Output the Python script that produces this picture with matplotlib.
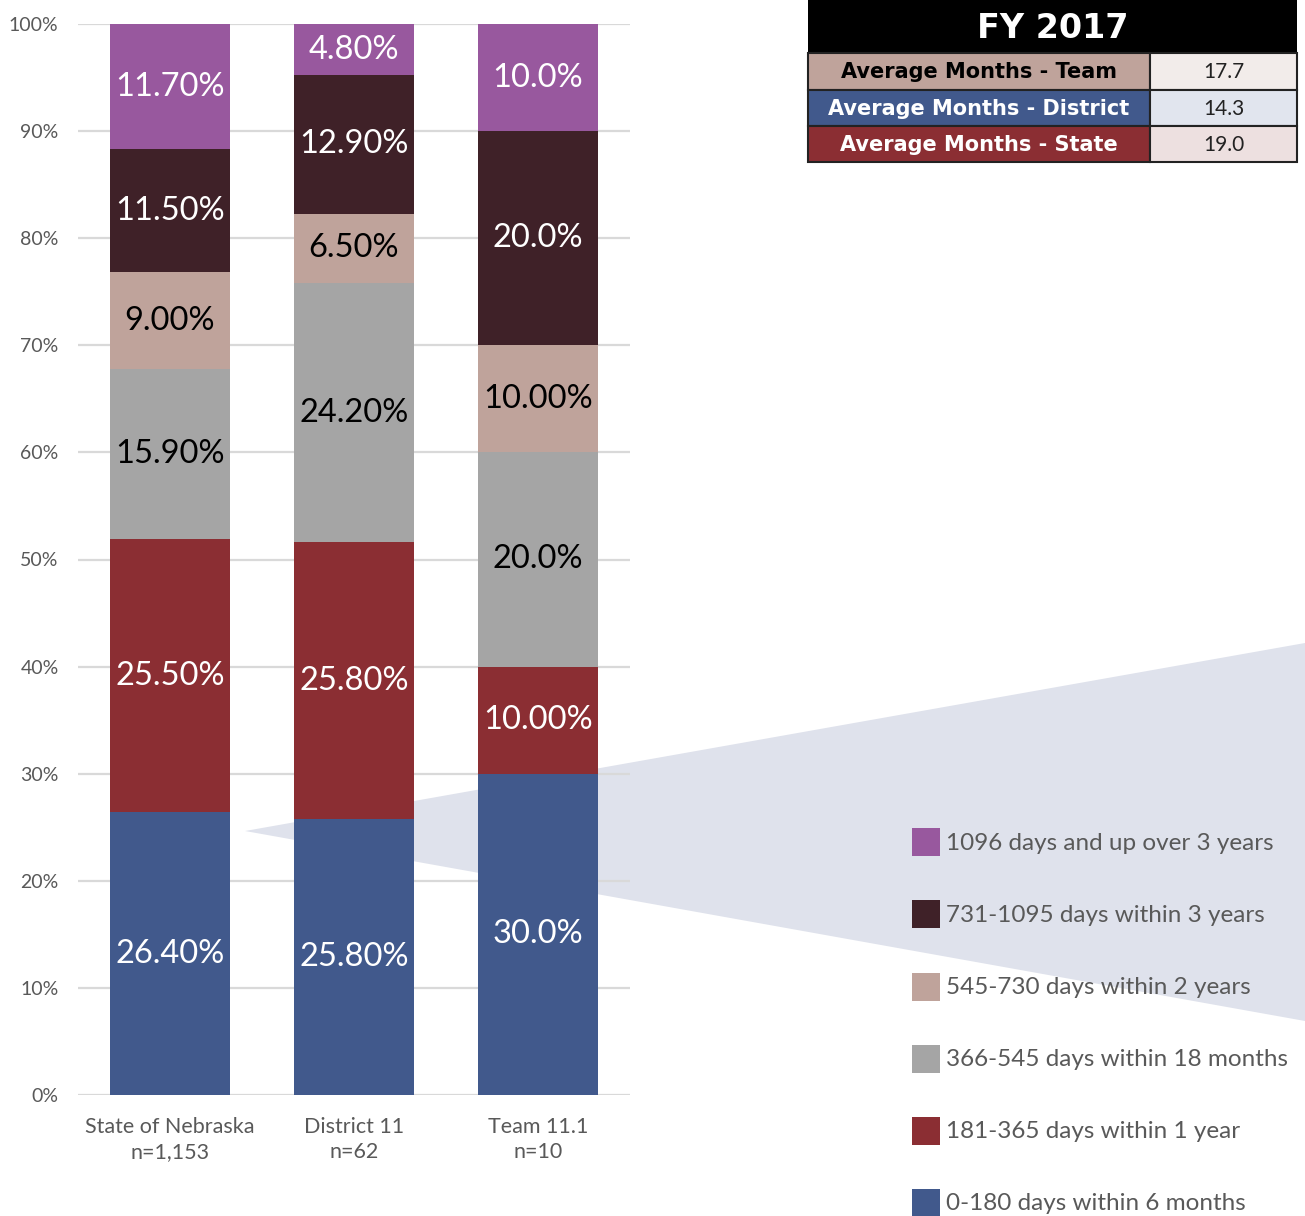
import numpy as np
import matplotlib.pyplot as plt
from matplotlib.patches import Polygon, Rectangle

plt.rcParams['font.family'] = ['Lato', 'DejaVu Sans']

groups = ['State of Nebraska\nn=1,153', 'District 11\nn=62', 'Team 11.1\nn=10']
categories = ['0-180 days within 6 months', '181-365 days within 1 year',
              '366-545 days within 18 months', '545-730 days within 2 years',
              '731-1095 days within 3 years', '1096 days and up over 3 years']
colors = ['#41598C', '#8B2E33', '#A5A5A5', '#BFA39B', '#3F2128', '#98589E']
text_colors = ['white', 'white', 'black', 'black', 'white', 'white']

# percent per category (rows) for each group (cols)
values = np.array([
    [26.4, 25.8, 30.0],
    [25.5, 25.8, 10.0],
    [15.9, 24.2, 20.0],
    [9.0, 6.5, 10.0],
    [11.5, 12.9, 20.0],
    [11.7, 4.8, 10.0],
])
labels = [
    ['26.40%', '25.80%', '30.0%'],
    ['25.50%', '25.80%', '10.00%'],
    ['15.90%', '24.20%', '20.0%'],
    ['9.00%', '6.50%', '10.00%'],
    ['11.50%', '12.90%', '20.0%'],
    ['11.70%', '4.80%', '10.0%'],
]

table_title = 'FY 2017'
table_labels = ['Average Months - Team', 'Average Months - District', 'Average Months - State']
table_values = ['17.7', '14.3', '19.0']
table_fill = ['#BFA39B', '#41598C', '#8B2E33']
table_val_fill = ['#F2ECEA', '#E1E5EE', '#EDE0E0']
table_text = ['black', 'white', 'white']

W, H = 1305, 1216
fig = plt.figure(figsize=(W / 100, H / 100), dpi=100)

def fx(px):
    return px / W

def fy(py):
    return 1 - py / H

# callout shape behind the chart
poly = Polygon([(fx(245), fy(831)), (fx(1305), fy(643)), (fx(1305), fy(1021))],
               closed=True, transform=fig.transFigure, facecolor='#DFE2EC',
               edgecolor='none', zorder=-5)
fig.patches.append(poly)

ax = fig.add_axes([fx(78), fy(1095), fx(630) - fx(78), fy(24) - fy(1095)])
ax.patch.set_alpha(0)
x = np.arange(len(groups))
bottom = np.zeros(len(groups))
for i in range(len(categories)):
    ax.bar(x, values[i], 0.65, bottom=bottom, color=colors[i], zorder=3)
    for j in range(len(groups)):
        ax.text(x[j], bottom[j] + values[i][j] / 2, labels[i][j], ha='center', va='center',
                color=text_colors[i], fontsize=23.5, zorder=4)
    bottom += values[i]

ax.set_xlim(-0.5, 2.5)
ax.set_ylim(0, 100)
ax.set_yticks(np.arange(0, 101, 10))
ax.set_yticklabels([f'{v}%' for v in range(0, 101, 10)], fontsize=14, color='#595959')
ax.set_xticks(x)
ax.set_xticklabels(groups, fontsize=15.5, color='#595959', linespacing=1.3)
ax.tick_params(length=0)
ax.tick_params(axis='x', pad=16)
ax.tick_params(axis='y', pad=14)
ax.grid(axis='y', color='#D9D9D9', lw=1.6, zorder=1)
ax.set_axisbelow(True)
for s in ax.spines.values():
    s.set_visible(False)

# summary table, top right
tx0, tx1, tsplit = 808, 1297, 1150
ty = [0, 53, 90, 126, 162]
fig.patches.append(Rectangle((fx(tx0), fy(ty[1])), fx(tx1) - fx(tx0), fy(ty[0]) - fy(ty[1]),
                             transform=fig.transFigure, facecolor='black', edgecolor='none'))
fig.text(fx((tx0 + tx1) / 2), fy(29), table_title, ha='center', va='center',
         color='white', fontsize=24, fontweight='bold', family='DejaVu Sans')
for k in range(3):
    y0, y1 = ty[k + 1], ty[k + 2]
    fig.patches.append(Rectangle((fx(tx0), fy(y1)), fx(tsplit) - fx(tx0), fy(y0) - fy(y1),
                                 transform=fig.transFigure, facecolor=table_fill[k],
                                 edgecolor='#222222', lw=1.5))
    fig.patches.append(Rectangle((fx(tsplit), fy(y1)), fx(tx1) - fx(tsplit), fy(y0) - fy(y1),
                                 transform=fig.transFigure, facecolor=table_val_fill[k],
                                 edgecolor='#222222', lw=1.5))
    fig.text(fx((tx0 + tsplit) / 2), fy((y0 + y1) / 2 + 1), table_labels[k], ha='center',
             va='center', color=table_text[k], fontsize=15, fontweight='bold',
             family='DejaVu Sans')
    fig.text(fx((tsplit + tx1) / 2), fy((y0 + y1) / 2 + 1), table_values[k], ha='center',
             va='center', color='#222222', fontsize=15)

# legend, top entry first
leg_y = [842, 914, 987, 1059, 1131, 1203]
for k, cat in enumerate(categories[::-1]):
    c = colors[::-1][k]
    fig.patches.append(Rectangle((fx(912), fy(leg_y[k] + 14)), fx(940) - fx(912), fy(0) - fy(28),
                                 transform=fig.transFigure, facecolor=c, edgecolor='none'))
    fig.text(fx(946), fy(leg_y[k] + 1), cat, ha='left', va='center', color='#595959',
             fontsize=17.5)

fig.savefig('out.png', dpi=100)
